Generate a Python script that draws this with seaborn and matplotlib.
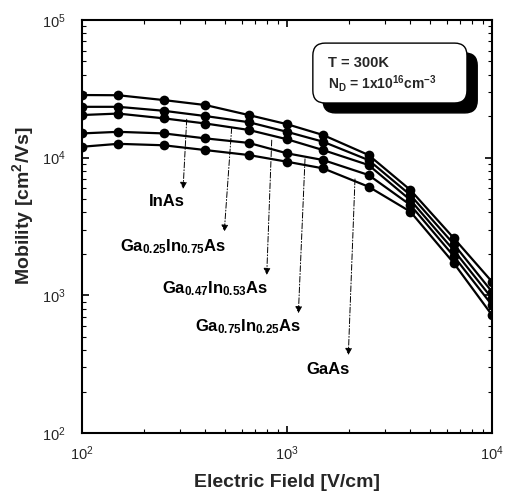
import numpy as np
import pandas as pd
import matplotlib
matplotlib.use("Agg")
import matplotlib.pyplot as plt
from matplotlib.patches import FancyBboxPatch
from matplotlib.ticker import LogLocator, NullFormatter
import seaborn as sns

# ---- data ----
field = [100, 150, 250, 400, 650, 1000, 1500, 2500, 4000, 6500, 10000]
materials = ["InAs", "Ga0.25In0.75As", "Ga0.47In0.53As", "Ga0.75In0.25As", "GaAs"]
mu_InAs = [28500, 28400, 26200, 24100, 20400, 17500, 14600, 10450, 5820, 2610, 1256]
mu_Ga25 = [23400, 23400, 21900, 20050, 18100, 15400, 13050, 9600, 5350, 2360, 1062]
mu_Ga47 = [20400, 20900, 19300, 17700, 15900, 13600, 11350, 8840, 4920, 2130, 951]
mu_Ga75 = [15000, 15400, 15000, 13800, 12800, 10750, 9610, 7480, 4530, 1930, 850]
mu_GaAs = [12000, 12600, 12300, 11350, 10450, 9340, 8360, 6150, 4050, 1720, 719]
series = [mu_InAs, mu_Ga25, mu_Ga47, mu_Ga75, mu_GaAs]

labels = ["InAs",
          r"Ga$_{0.25}$In$_{0.75}$As",
          r"Ga$_{0.47}$In$_{0.53}$As",
          r"Ga$_{0.75}$In$_{0.25}$As",
          "GaAs"]
# (arrow start E, mu), (arrow tip E, mu), (label E, mu)
arrow_start = [(324, 19000), (537, 16500), (842, 13400), (1224, 9800), (2146, 7000)]
arrow_tip = [(311, 5915), (494, 2897), (796, 1404), (1136, 740), (1991, 368)]
label_pos = [(259, 4785), (279, 2254), (445, 1124), (648, 592), (1590, 287)]

df = pd.DataFrame({
    "E": np.tile(field, len(materials)),
    "mu": np.concatenate(series),
    "material": np.repeat(materials, len(field)),
})

sns.set_theme(style="ticks")
plt.rcParams["font.family"] = ["Liberation Sans", "DejaVu Sans"]
plt.rcParams["mathtext.default"] = "regular"

fig = plt.figure(figsize=(5.13, 4.97), dpi=100)
ax = fig.add_axes([0.160, 0.1288, 0.799, 0.831])

sns.lineplot(data=df, x="E", y="mu", hue="material", palette=["black"] * 5,
             marker="o", markersize=7, markeredgewidth=0, linewidth=1.6,
             legend=False, ax=ax)

ax.set_xscale("log")
ax.set_yscale("log")
ax.set_xlim(100, 10000)
ax.set_ylim(100, 100000)

for s in ax.spines.values():
    s.set_linewidth(1.5)
    s.set_color("black")

ax.xaxis.set_major_locator(LogLocator(base=10, numticks=10))
ax.yaxis.set_major_locator(LogLocator(base=10, numticks=10))
ax.xaxis.set_minor_locator(LogLocator(base=10, subs=np.arange(2, 10), numticks=100))
ax.yaxis.set_minor_locator(LogLocator(base=10, subs=np.arange(2, 10), numticks=100))
ax.xaxis.set_minor_formatter(NullFormatter())
ax.yaxis.set_minor_formatter(NullFormatter())
ax.tick_params(which="both", direction="in", top=True, right=True, color="black")
ax.tick_params(which="major", length=5, width=1.2, labelsize=10.5)
ax.tick_params(which="minor", length=3, width=0.8)
ax.tick_params(axis="x", which="major", pad=8)
ax.tick_params(axis="y", which="major", pad=12)

ax.set_xlabel("Electric Field [V/cm]", fontsize=14, fontweight="bold")
ax.set_ylabel(r"Mobility [cm$^2$/Vs]", fontsize=14, fontweight="bold")
ax.yaxis.set_label_coords(-0.112, 0.55)
ax.xaxis.set_label_coords(0.5, -0.10)

for st, tp, lp, lab in zip(arrow_start, arrow_tip, label_pos, labels):
    ax.annotate("", xy=tp, xytext=st,
                arrowprops=dict(arrowstyle="-|>", color="black", lw=0.7,
                                linestyle=(0, (6, 2, 1, 2)), mutation_scale=10,
                                shrinkA=0, shrinkB=0))
    ax.text(lp[0], lp[1], lab, ha="center", va="center", fontsize=12,
            fontweight="bold", color="black")

# info box with shadow
shadow = FancyBboxPatch((0.588, 0.775), 0.376, 0.145, transform=ax.transAxes,
                        boxstyle="round,pad=0,rounding_size=0.03",
                        facecolor="black", edgecolor="black", zorder=4)
box = FancyBboxPatch((0.563, 0.799), 0.376, 0.145, transform=ax.transAxes,
                     boxstyle="round,pad=0,rounding_size=0.03",
                     facecolor="white", edgecolor="black", linewidth=1.0, zorder=5)
ax.add_patch(shadow)
ax.add_patch(box)
ax.text(0.600, 0.895, "T = 300K", transform=ax.transAxes, fontsize=10.5,
        fontweight="bold", va="center", ha="left", zorder=6)
ax.text(0.600, 0.845, r"N$_D$ = 1x10$^{16}$cm$^{-3}$", transform=ax.transAxes,
        fontsize=10, fontweight="bold", va="center", ha="left", zorder=6)

fig.savefig("out.png", dpi=100)
